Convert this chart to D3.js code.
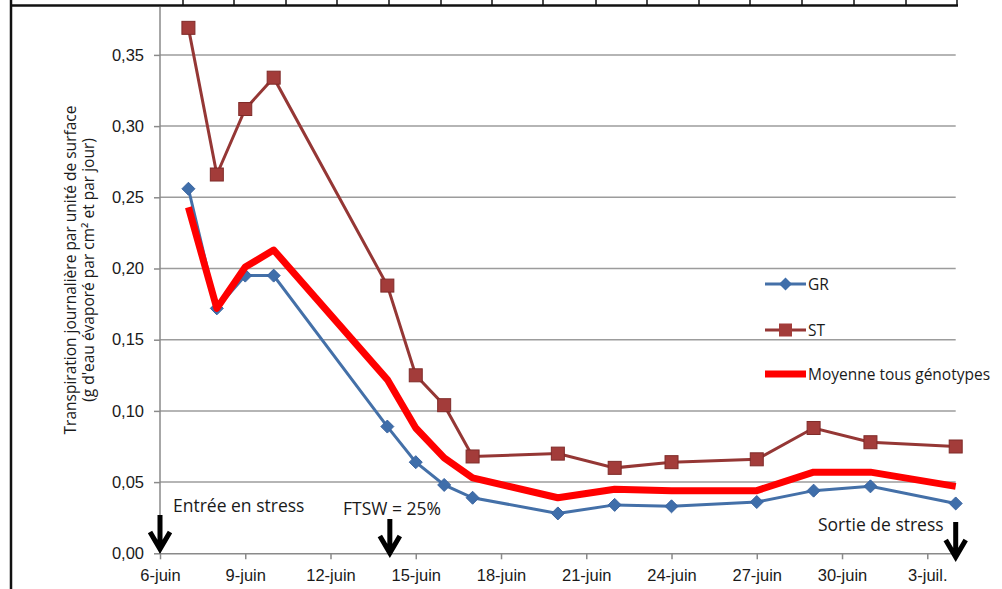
<!DOCTYPE html>
<html>
<head>
<meta charset="utf-8">
<script src="https://cdn.jsdelivr.net/npm/d3@7"></script>
<style>
  body { margin: 0; background: #fff; }
  svg { display: block; font-family: "Open Sans", sans-serif; }
  .grid line { stroke: #9c9c9c; stroke-width: 1.5; }
  .axis path, .axis line { stroke: #8a8a8a; stroke-width: 1.5; }
  .axis text { fill: #1a1a1a; font-size: 16.5px; }
  .note { fill: #1a1a1a; font-size: 17.5px; }
  .legend text { fill: #1a1a1a; font-size: 15.5px; }
</style>
</head>
<body>
<div id="chart"></div>
<script>
// measurement dates (2010 assumed, the year is not shown)
const dates = ['2010-06-07', '2010-06-08', '2010-06-09', '2010-06-10', '2010-06-14', '2010-06-15',
    '2010-06-16', '2010-06-17', '2010-06-20', '2010-06-22', '2010-06-24', '2010-06-27',
    '2010-06-29', '2010-07-01', '2010-07-04'];
const grValues = [0.256, 0.172, 0.195, 0.195, 0.089, 0.064, 0.048, 0.039, 0.028, 0.034, 0.033, 0.036, 0.044, 0.047, 0.035];
const stValues = [0.369, 0.266, 0.312, 0.334, 0.188, 0.125, 0.104, 0.068, 0.070, 0.060, 0.064, 0.066, 0.088, 0.078, 0.075];
const meanValues = [0.243, 0.172, 0.201, 0.213, 0.122, 0.088, 0.067, 0.053, 0.039, 0.045, 0.044, 0.044, 0.057, 0.057, 0.047];

const xTickDates = ['2010-06-06', '2010-06-09', '2010-06-12', '2010-06-15', '2010-06-18', '2010-06-21',
    '2010-06-24', '2010-06-27', '2010-06-30', '2010-07-03'];
const xTickLabels = ['6-juin', '9-juin', '12-juin', '15-juin', '18-juin', '21-juin', '24-juin', '27-juin', '30-juin', '3-juil.'];
const yTicks = [0, 0.05, 0.10, 0.15, 0.20, 0.25, 0.30, 0.35];

// annotations: date the arrow points to, text
const markers = [
    { date: '2010-06-06', text: 'Entrée en stress' },
    { date: '2010-06-14', text: 'FTSW = 25%' },
    { date: '2010-07-04', text: 'Sortie de stress' }
];
// cells of the table row cropped at the top of the page
const tableCols = [183, 234, 286, 337, 389, 441, 492, 543, 596, 647, 699, 750, 802, 854, 906, 957];

const width = 1002, height = 589;
const parse = d3.timeParse('%Y-%m-%d');

// plot top (0,40) lies above the visible page, as in the cropped original
const x = d3.scaleTime()
    .domain([parse('2010-06-06'), parse('2010-07-04')])
    .range([160, 955.7]);
const y = d3.scaleLinear()
    .domain([0, 0.40])
    .range([553.3, 553.3 - 0.40 * 1424]);

const svg = d3.select('#chart').append('svg')
    .attr('width', width)
    .attr('height', height);

// page frame / table border
svg.append('line').attr('x1', 11).attr('x2', 11).attr('y1', 0).attr('y2', height)
    .attr('stroke', '#111').attr('stroke-width', 2.5);
svg.append('line').attr('x1', 10).attr('x2', 958).attr('y1', 5.5).attr('y2', 5.5)
    .attr('stroke', '#111').attr('stroke-width', 2.5);
svg.append('g').selectAll('line').data(tableCols).enter().append('line')
    .attr('x1', d => d).attr('x2', d => d)
    .attr('y1', 0).attr('y2', 5)
    .attr('stroke', '#111').attr('stroke-width', 1.5);

// gridlines
svg.append('g').attr('class', 'grid')
    .selectAll('line').data(yTicks.slice(1)).enter().append('line')
    .attr('x1', 160).attr('x2', 955.7)
    .attr('y1', d => y(d)).attr('y2', d => y(d));

// y axis
const yAxis = d3.axisLeft(y)
    .tickValues(yTicks)
    .tickSize(6)
    .tickPadding(10)
    .tickFormat(d => d3.format('.2f')(d).replace('.', ','));
svg.append('g').attr('class', 'axis')
    .attr('transform', 'translate(160,0)')
    .call(yAxis)
    .call(g => g.select('.domain').remove());
svg.append('line')
    .attr('x1', 160).attr('x2', 160).attr('y1', 7).attr('y2', y(0))
    .attr('stroke', '#8a8a8a').attr('stroke-width', 1.5);

// x axis
const xAxis = d3.axisBottom(x)
    .tickValues(xTickDates.map(parse))
    .tickSizeInner(6)
    .tickSizeOuter(0)
    .tickPadding(10)
    .tickFormat((d, i) => xTickLabels[i]);
svg.append('g').attr('class', 'axis')
    .attr('transform', 'translate(0,' + y(0) + ')')
    .call(xAxis);

// y axis title
const yTitle = svg.append('text')
    .attr('transform', 'translate(76,270) rotate(-90)')
    .attr('text-anchor', 'middle')
    .attr('fill', '#1a1a1a')
    .style('font-size', '15.5px');
yTitle.append('tspan').attr('x', 0).attr('dy', 0)
    .text('Transpiration journalière par unité de surface');
yTitle.append('tspan').attr('x', 0).attr('dy', 18)
    .text('(g d\'eau évaporé par cm² et par jour)');

// series
const pts = vals => vals.map((v, i) => ({ date: parse(dates[i]), v: v }));
const line = d3.line().x(d => x(d.date)).y(d => y(d.v));

const stColor = '#953735', stFill = '#a33c3a';
const grColor = '#4470a8', grFill = '#3f6eaa';

svg.append('path').datum(pts(stValues))
    .attr('d', line).attr('fill', 'none')
    .attr('stroke', stColor).attr('stroke-width', 3);
svg.append('g').selectAll('rect').data(pts(stValues)).enter().append('rect')
    .attr('x', d => x(d.date) - 6.5).attr('y', d => y(d.v) - 6.5)
    .attr('width', 13).attr('height', 13)
    .attr('fill', stFill).attr('stroke', '#7f2b29').attr('stroke-width', 1);

svg.append('path').datum(pts(grValues))
    .attr('d', line).attr('fill', 'none')
    .attr('stroke', grColor).attr('stroke-width', 3);
// Excel style diamond, as wide as tall
const diamond = 'M0,-6.5L6.5,0L0,6.5L-6.5,0Z';
svg.append('g').selectAll('path').data(pts(grValues)).enter().append('path')
    .attr('d', diamond)
    .attr('transform', d => 'translate(' + x(d.date) + ',' + y(d.v) + ')')
    .attr('fill', grFill).attr('stroke', '#3a64a0').attr('stroke-width', 1);

svg.append('path').datum(pts(meanValues))
    .attr('d', line).attr('fill', 'none')
    .attr('stroke', '#ff0000').attr('stroke-width', 7)
    .attr('stroke-linejoin', 'round');

// legend
const legend = svg.append('g').attr('class', 'legend');
const legendRows = [
    { name: 'GR', y: 284, color: grColor, w: 3, mark: 'diamond' },
    { name: 'ST', y: 330, color: stColor, w: 3, mark: 'square' },
    { name: 'Moyenne tous génotypes', y: 374, color: '#ff0000', w: 7, mark: null }
];
legendRows.forEach(r => {
    legend.append('line').attr('x1', 765).attr('x2', 806)
        .attr('y1', r.y).attr('y2', r.y)
        .attr('stroke', r.color).attr('stroke-width', r.w);
    if (r.mark === 'diamond') {
        legend.append('path').attr('d', diamond)
            .attr('transform', 'translate(785.5,' + r.y + ')')
            .attr('fill', grFill);
    } else if (r.mark === 'square') {
        legend.append('rect').attr('x', 779).attr('y', r.y - 6.5)
            .attr('width', 13).attr('height', 13).attr('fill', stFill);
    }
    legend.append('text').attr('x', 808).attr('y', r.y + 5.5).text(r.name);
});

// stress annotations + arrows
const notePos = [
    { tx: 173, ty: 512, top: 515, tip: 549 },
    { tx: 343, ty: 515, top: 519, tip: 553 },
    { tx: 818, ty: 531, top: 522, tip: 557 }
];
markers.forEach((m, i) => {
    const p = notePos[i];
    const cx = x(parse(m.date)) + (i === 1 ? 2.5 : 0);
    svg.append('text').attr('class', 'note').attr('x', p.tx).attr('y', p.ty).text(m.text);
    svg.append('path')
        .attr('d', 'M' + cx + ',' + p.top + 'V' + (p.tip - 2)
            + 'M' + (cx - 10) + ',' + (p.tip - 17) + 'L' + cx + ',' + p.tip + 'L' + (cx + 10) + ',' + (p.tip - 17))
        .attr('fill', 'none').attr('stroke', '#000').attr('stroke-width', 5)
        .attr('stroke-linejoin', 'miter');
});
</script>
</body>
</html>
